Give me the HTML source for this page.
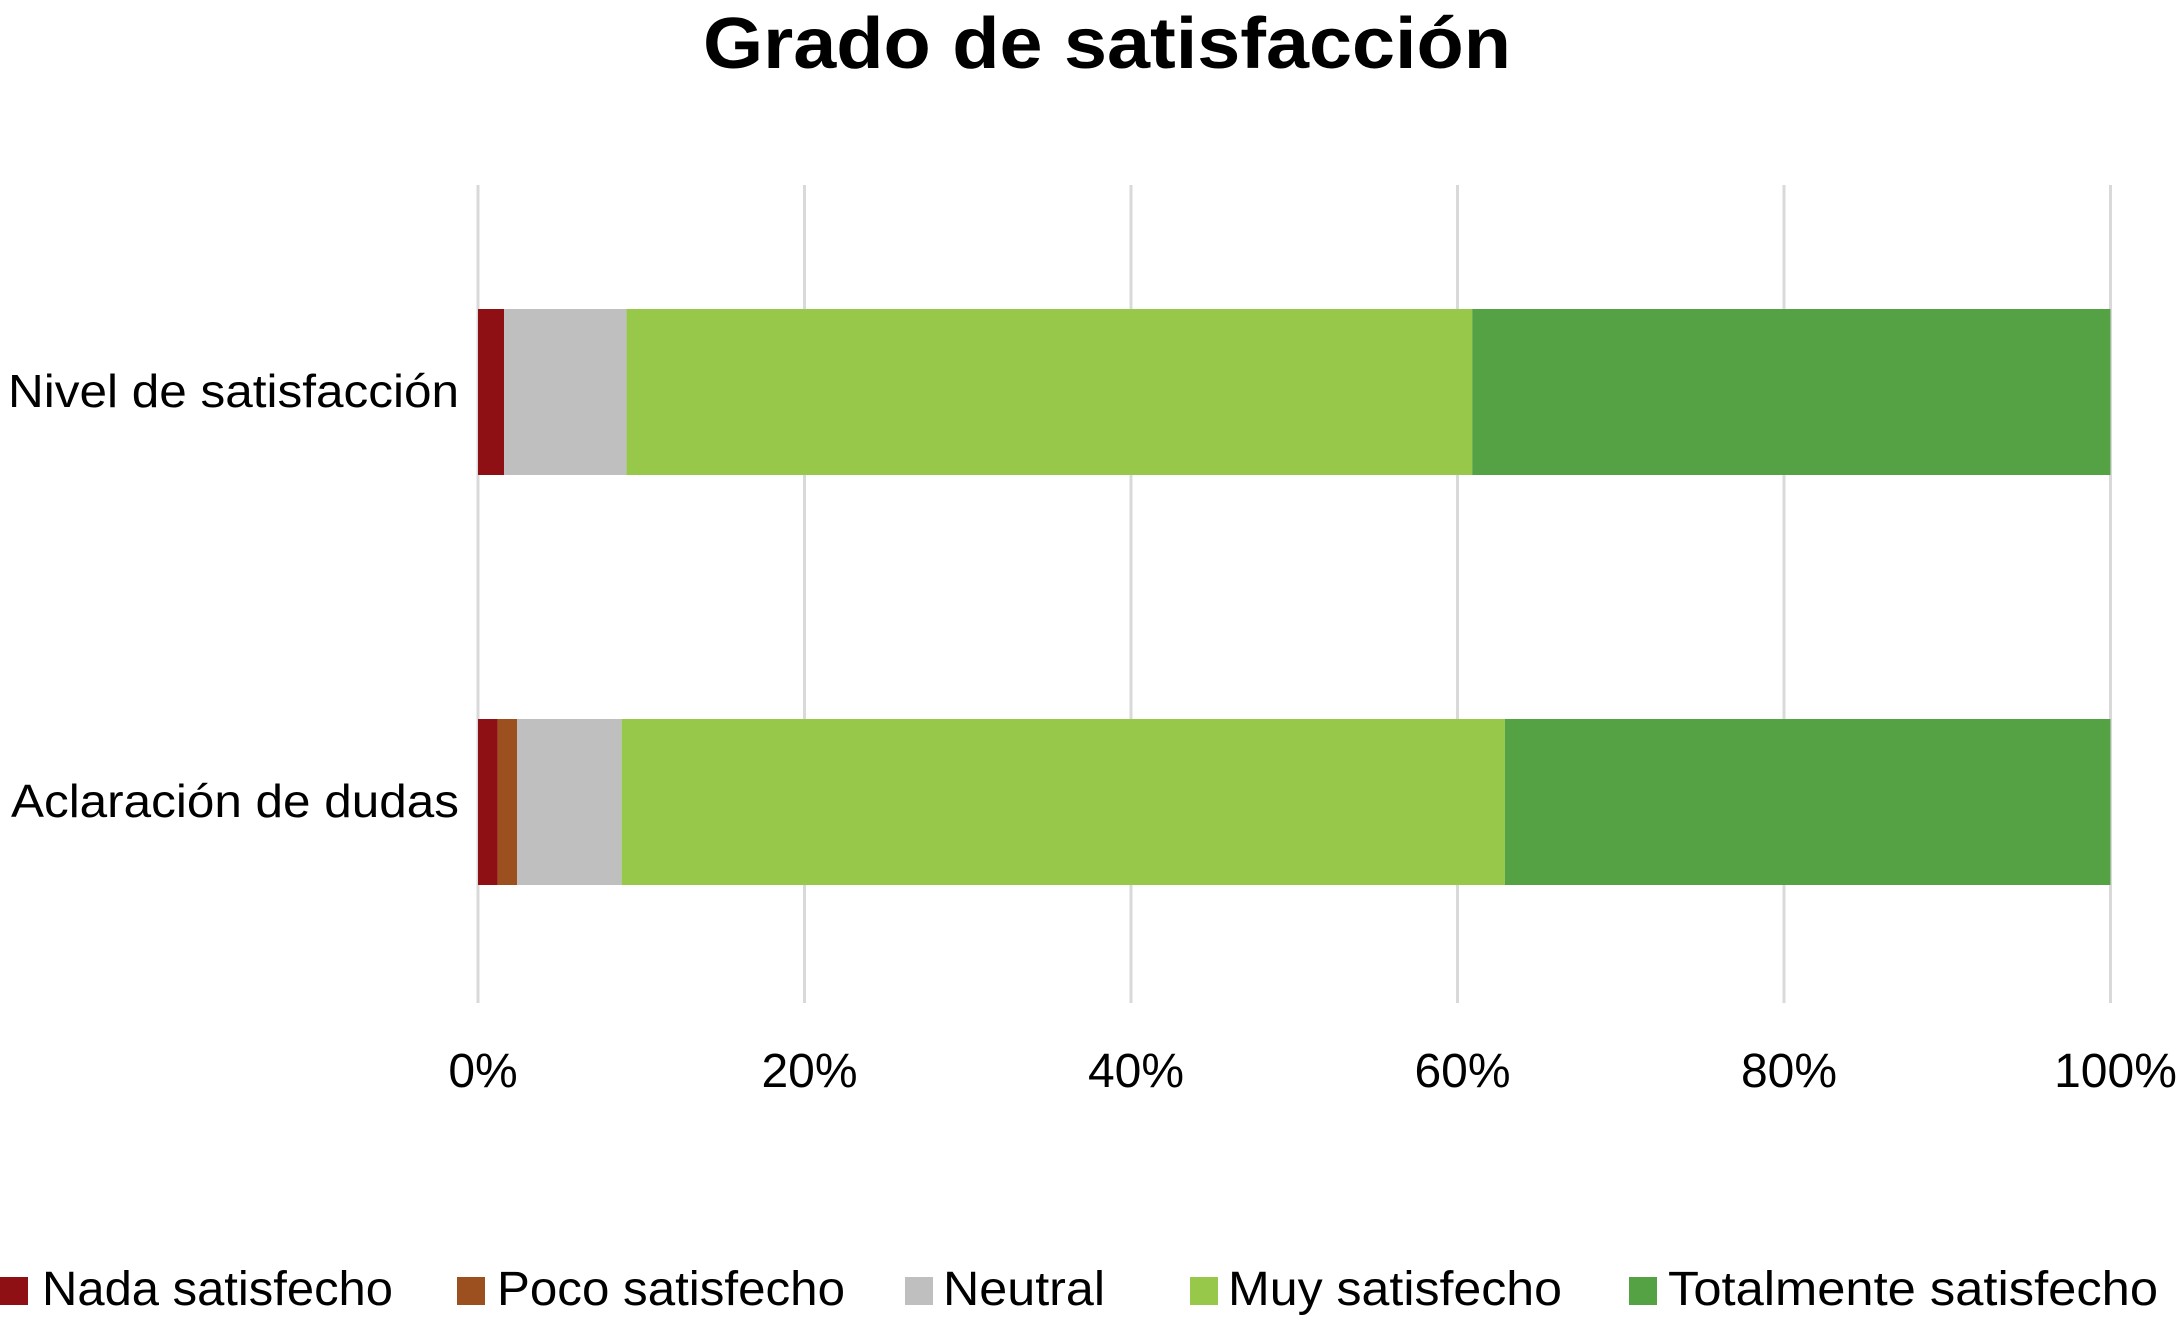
<!DOCTYPE html>
<html><head><meta charset="utf-8"><style>
html,body{margin:0;padding:0;background:#fff;}
svg{display:block;font-family:"Liberation Sans",sans-serif;}
</style></head><body>
<svg id="chart" width="2183" height="1329" viewBox="0 0 2183 1329">
<text x="1107" y="68" text-anchor="middle" font-size="72" font-weight="bold" textLength="808" lengthAdjust="spacingAndGlyphs">Grado de satisfacción</text>
<g id="grid"></g><g id="bars"></g><g id="ylabels"></g><g id="xlabels"></g><g id="legend"></g>
</svg>
<script>
const categories = ["Nivel de satisfacción", "Aclaración de dudas"];
const seriesNames = ["Nada satisfecho", "Poco satisfecho", "Neutral", "Muy satisfecho", "Totalmente satisfecho"];
const nada = [1.6, 1.2];
const poco = [0, 1.2];
const neutral = [7.5, 6.4];
const muy = [51.8, 54.1];
const totalmente = [39.1, 37.1];
const ticks = [0, 20, 40, 60, 80, 100];
const tickLabels = ["0%", "20%", "40%", "60%", "80%", "100%"];

const colors = ["#8e1015", "#9c4f1f", "#bfbfbf", "#97c84a", "#55a244"];
const series = [nada, poco, neutral, muy, totalmente];
const NS = "http://www.w3.org/2000/svg";
const x0 = 478, x1 = 2110.5, gTop = 185, gBot = 1003;
const xs = v => x0 + (x1 - x0) * v / 100;
const barCenters = [392, 802], barH = 166;
const yc = i => barCenters[i];
function mk(tag, attrs, parent){const e=document.createElementNS(NS,tag);for(const k in attrs)e.setAttribute(k,attrs[k]);parent.appendChild(e);return e;}
const grid=document.getElementById('grid'), bars=document.getElementById('bars'), yl=document.getElementById('ylabels'), xl=document.getElementById('xlabels'), lg=document.getElementById('legend');
ticks.forEach((t,i)=>{
  const l=mk('line',{x1:xs(t),x2:xs(t),y1:gTop,y2:gBot,stroke:'#d9d9d9','stroke-width':3},grid);
  
  
  const tx=mk('text',{x:xs(t)+5,y:1087,'text-anchor':'middle','font-size':48},xl);
  tx.textContent=tickLabels[i];
  
  
});
categories.forEach((c,i)=>{
  let acc=0;
  series.forEach((s,j)=>{
    const v=s[i];
    if(v>0){
      const r=mk('rect',{x:xs(acc),y:yc(i)-barH/2,width:xs(acc+v)-xs(acc),height:barH,fill:colors[j]},bars);
      
      
    }
    acc+=v;
  });
  const t=mk('text',{x:459,y:yc(i)+15,'text-anchor':'end','font-size':46,textLength:i===0?451:448,lengthAdjust:'spacingAndGlyphs'},yl);
  t.textContent=c;
  
  
});
const legSq=[0,457,905,1190,1629], legTx=[42,497,943,1228,1668], legEnd=[393,845,1105,1562,2158];
seriesNames.forEach((n,j)=>{
  const r=mk('rect',{x:legSq[j],y:1277,width:28,height:28,fill:colors[j]},lg);
  
  
  const t=mk('text',{x:legTx[j],y:1305,'font-size':48,textLength:legEnd[j]-legTx[j],lengthAdjust:'spacingAndGlyphs'},lg);
  t.textContent=n;
  
  
});
</script>
</body></html>
